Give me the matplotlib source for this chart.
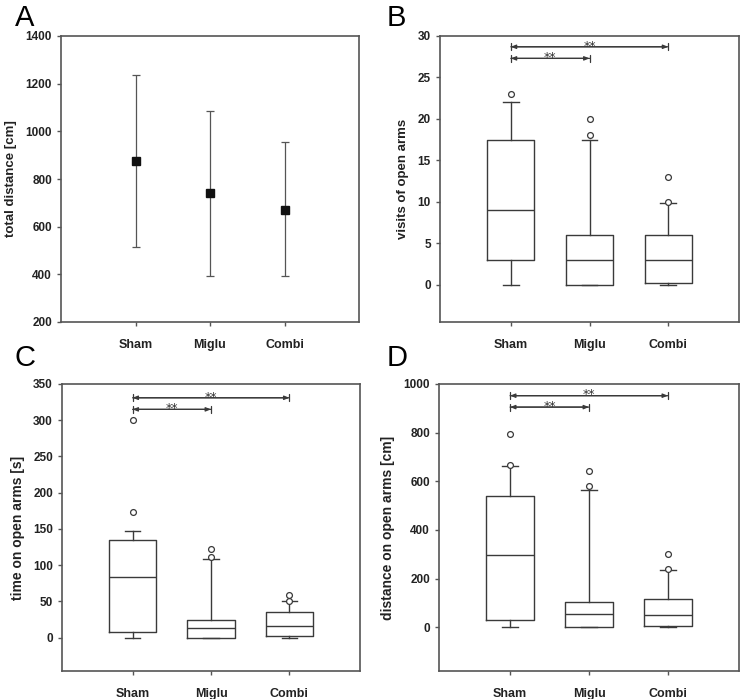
import numpy as np
import matplotlib
matplotlib.use('agg')
import matplotlib.pyplot as plt

plt.rcParams['font.family'] = ['Liberation Sans', 'DejaVu Sans']

groups = ['Sham', 'Miglu', 'Combi']

# panel A: total distance, mean with range
dist_mean = [875, 740, 672]
dist_low = [515, 395, 392]
dist_high = [1235, 1085, 955]

# panel B: visits of open arms
visits_q1 = [3, 0, 0.25]
visits_med = [9, 3, 3]
visits_q3 = [17.5, 6, 6]
visits_wlo = [0, 0, 0]
visits_whi = [22, 17.5, 9.8]
visits_out = [[23], [18, 20], [10, 13]]
visits_sig = [27.3, 28.7]

# panel C: time on open arms
time_q1 = [8, 0, 2]
time_med = [84, 14, 16]
time_q3 = [135, 25, 36]
time_wlo = [0, 0, 0]
time_whi = [147, 109, 51]
time_out = [[173, 300], [111, 123], [50, 59]]
time_sig = [315, 331]

# panel D: distance on open arms
dopen_q1 = [28, 0, 5]
dopen_med = [295, 55, 52]
dopen_q3 = [540, 105, 117]
dopen_wlo = [0, 0, 0]
dopen_whi = [662, 563, 235]
dopen_out = [[665, 795], [580, 643], [238, 300]]
dopen_sig = [905, 952]

W, H = 743, 699
fig = plt.figure(figsize=(W / 100, H / 100), dpi=100)
edge = '#555555'
linec = '#3a3a3a'


def make_ax(l, r, t, b):
    ax = fig.add_axes([l / W, 1 - b / H, (r - l) / W, (b - t) / H])
    for s in ax.spines.values():
        s.set_color(edge)
        s.set_linewidth(1.2)
    ax.tick_params(direction='out', length=3, width=1, color=edge,
                   labelsize=8.5, top=False, right=False)
    return ax


def style_labels(ax, ylabel, ysize):
    ax.set_ylabel(ylabel, fontsize=ysize, fontweight='bold', color='#222222', labelpad=6)
    ax.tick_params(axis='x', pad=9, labelsize=9)
    for lab in ax.get_xticklabels() + ax.get_yticklabels():
        lab.set_fontweight('bold')
        lab.set_color('#222222')


def box_panel(ax, q1, med, q3, wlo, whi, out, sig, ylim, yticks, ylabel, ysize):
    stats = []
    for i in range(3):
        stats.append(dict(med=med[i], q1=q1[i], q3=q3[i], whislo=wlo[i],
                          whishi=whi[i], fliers=out[i]))
    lp = dict(color=linec, linewidth=1.0)
    ax.bxp(stats, positions=[1, 2, 3], widths=0.6, boxprops=lp, medianprops=lp,
           whiskerprops=lp, capprops=lp, capwidths=0.2,
           flierprops=dict(marker='o', markerfacecolor='white',
                           markeredgecolor=linec, markersize=4.2, markeredgewidth=0.9))
    ax.set_xlim(0.1, 3.9)
    ax.set_ylim(*ylim)
    ax.set_yticks(yticks)
    ax.set_xticks([1, 2, 3])
    ax.set_xticklabels(groups)
    for yv, x2 in zip(sig, [2, 3]):
        ax.annotate('', xy=(1, yv), xytext=(x2, yv),
                    arrowprops=dict(arrowstyle='|-|,widthA=0.25,widthB=0.25',
                                    color=linec, lw=0.9, shrinkA=0, shrinkB=0))
        ax.annotate('', xy=(1, yv), xytext=(x2, yv),
                    arrowprops=dict(arrowstyle='<|-|>,head_length=0.3,head_width=0.12',
                                    color=linec, lw=0.9, shrinkA=0, shrinkB=0))
        ax.annotate('**', xy=((1 + x2) / 2, yv), xytext=(0, 0.5),
                    textcoords='offset points', ha='center', va='center',
                    fontsize=9, color='#333333', family='DejaVu Sans')
    style_labels(ax, ylabel, ysize)


# A
axA = make_ax(61, 359, 36, 322)
err = [np.array(dist_mean) - np.array(dist_low), np.array(dist_high) - np.array(dist_mean)]
axA.errorbar([1, 2, 3], dist_mean, yerr=err, fmt='s', color='#111111', markersize=5.8,
             ecolor='#555555', elinewidth=0.9, capsize=2.8, capthick=0.9)
axA.set_xlim(0, 4)
axA.set_ylim(200, 1400)
axA.set_yticks(range(200, 1401, 200))
axA.set_xticks([1, 2, 3])
axA.set_xticklabels(groups)
style_labels(axA, 'total distance [cm]', 9.5)

# B
axB = make_ax(440, 739, 36, 322)
box_panel(axB, visits_q1, visits_med, visits_q3, visits_wlo, visits_whi, visits_out,
          visits_sig, (-4.5, 30), range(0, 31, 5), 'visits of open arms', 9.5)

# C
axC = make_ax(62, 360, 384, 671)
box_panel(axC, time_q1, time_med, time_q3, time_wlo, time_whi, time_out,
          time_sig, (-46, 350), range(0, 351, 50), 'time on open arms [s]', 10)

# D
axD = make_ax(439, 739, 384, 671)
box_panel(axD, dopen_q1, dopen_med, dopen_q3, dopen_wlo, dopen_whi, dopen_out,
          dopen_sig, (-180, 1000), range(0, 1001, 200), 'distance on open arms [cm]', 10)

for lbl, x, y in [('A', 15, 26), ('B', 387, 26), ('C', 15, 366), ('D', 387, 366)]:
    fig.text(x / W, 1 - y / H, lbl, fontsize=21, ha='left', va='baseline')

fig.savefig('out.png', dpi=100)
